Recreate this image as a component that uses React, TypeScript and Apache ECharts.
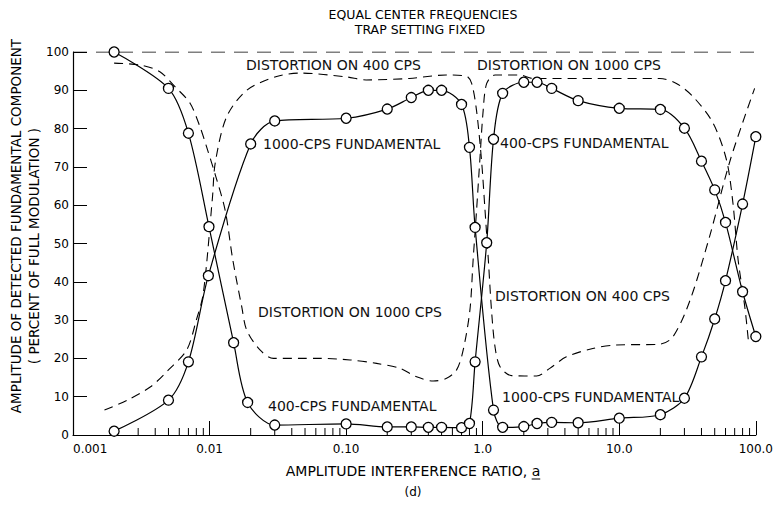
import React, { useEffect, useRef } from "react";
import * as echarts from "echarts";

// ---------- data ----------
const xTickValues = [0.001, 0.01, 0.1, 1, 10, 100];
const xTickLabels = ["0.001", "0.01", "0.10", "1.0", "10.0", "100.0"];
const minorMantissas = [2, 3, 4, 5, 6, 7, 8, 9];
const minorDecades = [0.001, 0.01, 0.1, 1, 10];

// 1000-CPS fundamental (solid, circles)
const fund1000X = [0.002, 0.005, 0.007, 0.0098, 0.02, 0.03, 0.1, 0.2, 0.3, 0.4, 0.5, 0.7, 0.8, 0.88, 1.2, 1.4, 2.0, 2.5, 3.2, 5, 10, 20, 30, 40, 50, 60, 80, 100];
const fund1000Y = [1, 9.1, 19.1, 41.6, 76, 82, 82.7, 85.1, 88.1, 90, 90, 86.3, 75.1, 54.2, 6.5, 2, 2.2, 3, 3.3, 3.2, 4.4, 5.3, 9.6, 20.4, 30.3, 40.3, 60.3, 77.9];

// 400-CPS fundamental (solid, circles)
const fund400X = [0.002, 0.005, 0.007, 0.0099, 0.015, 0.019, 0.03, 0.1, 0.2, 0.3, 0.4, 0.5, 0.7, 0.8, 0.88, 1.07, 1.2, 1.4, 2.0, 2.5, 3.2, 5, 10, 20, 30, 40, 50, 60, 80, 100];
const fund400Y = [100, 90.5, 78.8, 54.4, 24.1, 8.5, 2.6, 2.9, 2.1, 2.1, 2, 2, 1.9, 3, 19.1, 50.2, 77.2, 89.2, 92.1, 92.1, 90.5, 87.3, 85.3, 85, 80.1, 71.5, 64, 55.5, 37.4, 25.7];

// dashed distortion curve starting low at left
const distAX = [0.0017, 0.0025, 0.0037, 0.005, 0.0068, 0.008, 0.009, 0.0105, 0.011, 0.0133, 0.0187, 0.031, 0.046, 0.1, 0.14, 0.29, 0.54, 0.76, 0.83, 0.9, 0.98, 1.04, 1.1, 1.16, 1.23, 1.34, 1.63, 2.48, 3.1, 4.1, 6.4, 9.5, 19.8, 24.8, 33, 46, 65, 98];
const distAY = [6.5, 9.1, 12.6, 17, 22.2, 30, 37, 62, 71, 83, 90, 93.6, 94.5, 93.5, 92.7, 93.1, 94, 93.7, 91.8, 84.9, 71.8, 58.7, 45.7, 32.6, 23.1, 17.8, 15.5, 15.4, 17.4, 20.4, 22.6, 23.5, 23.7, 25.7, 35.2, 52, 71.8, 90.5];

// dashed distortion curve starting high at left
const distBX = [0.002, 0.0031, 0.0043, 0.0056, 0.0072, 0.0085, 0.0095, 0.011, 0.013, 0.0148, 0.0172, 0.0187, 0.0234, 0.0293, 0.046, 0.064, 0.107, 0.167, 0.248, 0.328, 0.434, 0.544, 0.644, 0.72, 0.806, 0.851, 0.902, 0.953, 1.009, 1.07, 1.23, 1.87, 2.33, 7.2, 19.8, 26.2, 34.8, 48.7, 61, 68, 74.2, 83, 88];
const distBY = [97.1, 96.6, 94.9, 90.9, 86.6, 80.5, 75.3, 68, 58.7, 45.7, 33.5, 27.4, 22.2, 20, 20, 20, 19.6, 18.7, 17.4, 15.2, 14.1, 14.8, 17, 22.2, 32.6, 45.7, 58.7, 71.8, 84.9, 91.8, 94, 94, 93.1, 93.1, 93.1, 91.8, 88.3, 81.4, 71.8, 60.5, 45.7, 33.5, 25];

// full-modulation reference line
const refX = [0.001, 100];
const refY = [100, 100];

// annotations
const annotations = [
  { text: "DISTORTION ON 400 CPS", x: 246, y: 65 },
  { text: "DISTORTION ON 1000 CPS", x: 477, y: 65 },
  { text: "1000-CPS FUNDAMENTAL", x: 263, y: 144 },
  { text: "400-CPS FUNDAMENTAL", x: 500, y: 143 },
  { text: "DISTORTION ON 1000 CPS", x: 258, y: 312 },
  { text: "DISTORTION ON 400 CPS", x: 495, y: 296 },
  { text: "400-CPS FUNDAMENTAL", x: 268, y: 406 },
  { text: "1000-CPS FUNDAMENTAL", x: 502, y: 397 },
];

const zip = (xs: number[], ys: number[]) => xs.map((x, i) => [x, ys[i]]);

const FONT = '"DejaVu Sans", sans-serif';

function measure(txt: string, font: string) {
  const c = document.createElement("canvas").getContext("2d");
  if (!c) return txt.length * 8;
  c.font = font;
  return c.measureText(txt).width;
}

export default function App() {
  const ref = useRef<HTMLDivElement>(null);

  useEffect(() => {
    document.body.style.margin = "0";
    if (!ref.current) return;
    const chart = echarts.init(ref.current, undefined, { renderer: "svg" });

    const minorTicks: number[][] = [];
    minorDecades.forEach((d) => minorMantissas.forEach((m) => minorTicks.push([d * m, 0])));

    const solidStyle = {
      type: "line",
      smooth: 0.3,
      symbol: "circle",
      symbolSize: 10,
      showSymbol: true,
      z: 5,
      itemStyle: { color: "#fff", borderColor: "#000", borderWidth: 1.3 },
      lineStyle: { color: "#000", width: 1.2 },
      emphasis: { disabled: true },
      silent: true,
    };
    const dashedStyle = {
      type: "line",
      smooth: 0.3,
      symbol: "none",
      z: 3,
      lineStyle: { color: "#000", width: 1.1, type: [9, 6] },
      emphasis: { disabled: true },
      silent: true,
    };

    const titleFont = `14px ${FONT}`;
    const xTitle = "AMPLITUDE INTERFERENCE RATIO, a";
    const xTitleW = measure(xTitle, titleFont);
    const aW = measure("a", titleFont);
    const xTitleCx = 413;
    const xTitleY = 471;
    const xRight = xTitleCx + xTitleW / 2;

    const graphics: any[] = [
      {
        type: "text",
        x: 423,
        y: 14,
        style: { text: "EQUAL CENTER FREQUENCIES", font: `12.5px ${FONT}`, fill: "#000", align: "center", verticalAlign: "middle" },
      },
      {
        type: "text",
        x: 420,
        y: 29,
        style: { text: "TRAP SETTING FIXED", font: `12.5px ${FONT}`, fill: "#000", align: "center", verticalAlign: "middle" },
      },
      {
        type: "text",
        x: 16,
        y: 226,
        rotation: Math.PI / 2,
        style: { text: "AMPLITUDE OF DETECTED FUNDAMENTAL COMPONENT", font: `13.5px ${FONT}`, fill: "#000", align: "center", verticalAlign: "middle" },
      },
      {
        type: "text",
        x: 34,
        y: 246,
        rotation: Math.PI / 2,
        style: { text: "( PERCENT OF FULL MODULATION )", font: `13.5px ${FONT}`, fill: "#000", align: "center", verticalAlign: "middle" },
      },
      {
        type: "text",
        x: xTitleCx,
        y: xTitleY,
        style: { text: xTitle, font: titleFont, fill: "#000", align: "center", verticalAlign: "middle" },
      },
      {
        type: "line",
        shape: { x1: xRight - aW, y1: xTitleY + 8, x2: xRight, y2: xTitleY + 8 },
        style: { stroke: "#000", lineWidth: 1 },
      },
      {
        type: "text",
        x: 413,
        y: 492,
        style: { text: "(d)", font: `12px ${FONT}`, fill: "#000", align: "center", verticalAlign: "middle" },
      },
      ...annotations.map((a) => ({
        type: "text",
        x: a.x,
        y: a.y,
        z: 10,
        style: { text: a.text, font: `14px ${FONT}`, fill: "#111", align: "left", verticalAlign: "middle" },
      })),
    ];

    chart.setOption({
      animation: false,
      grid: { left: 73, right: 20, top: 52, bottom: 71 },
      xAxis: {
        type: "log",
        logBase: 10,
        min: 0.001,
        max: 100,
        axisLine: { show: true, lineStyle: { color: "#000", width: 1.2 } },
        axisTick: { show: true, inside: true, length: 14, lineStyle: { color: "#000", width: 1 } },
        axisLabel: {
          color: "#000",
          fontSize: 12,
          fontFamily: FONT,
          margin: 8,
          alignMinLabel: "left",
          showMinLabel: true,
          showMaxLabel: true,
          formatter: (v: number) => {
            const idx = Math.round(Math.log10(v)) + 3;
            return xTickLabels[idx] ?? "";
          },
        },
        splitLine: { show: false },
        minorTick: { show: false },
      },
      yAxis: {
        type: "value",
        min: 0,
        max: 100,
        interval: 10,
        axisLine: { show: true, lineStyle: { color: "#000", width: 1.2 } },
        axisTick: { show: true, inside: true, length: 14, lineStyle: { color: "#000", width: 1 } },
        axisLabel: { color: "#000", fontSize: 12, fontFamily: FONT, margin: 4 },
        splitLine: { show: false },
      },
      graphic: graphics,
      series: [
        {
          type: "custom",
          silent: true,
          clip: false,
          z: 2,
          data: minorTicks,
          renderItem: (params: any, api: any) => {
            const p = api.coord([api.value(0), 0]);
            return {
              type: "line",
              shape: { x1: p[0], y1: p[1], x2: p[0], y2: p[1] - 7 },
              style: { stroke: "#000", lineWidth: 1 },
            };
          },
        },
        {
          ...dashedStyle,
          name: "full modulation",
          data: zip(refX, refY),
          smooth: false,
          lineStyle: { color: "#000", width: 1.1, type: [14, 9] },
        },
        { ...dashedStyle, name: "distortion A", data: zip(distAX, distAY) },
        { ...dashedStyle, name: "distortion B", data: zip(distBX, distBY) },
        { ...solidStyle, name: "1000-CPS fundamental", data: zip(fund1000X, fund1000Y) },
        { ...solidStyle, name: "400-CPS fundamental", data: zip(fund400X, fund400Y) },
      ],
    });

    return () => chart.dispose();
  }, []);

  return <div ref={ref} style={{ width: 776, height: 506 }} />;
}
